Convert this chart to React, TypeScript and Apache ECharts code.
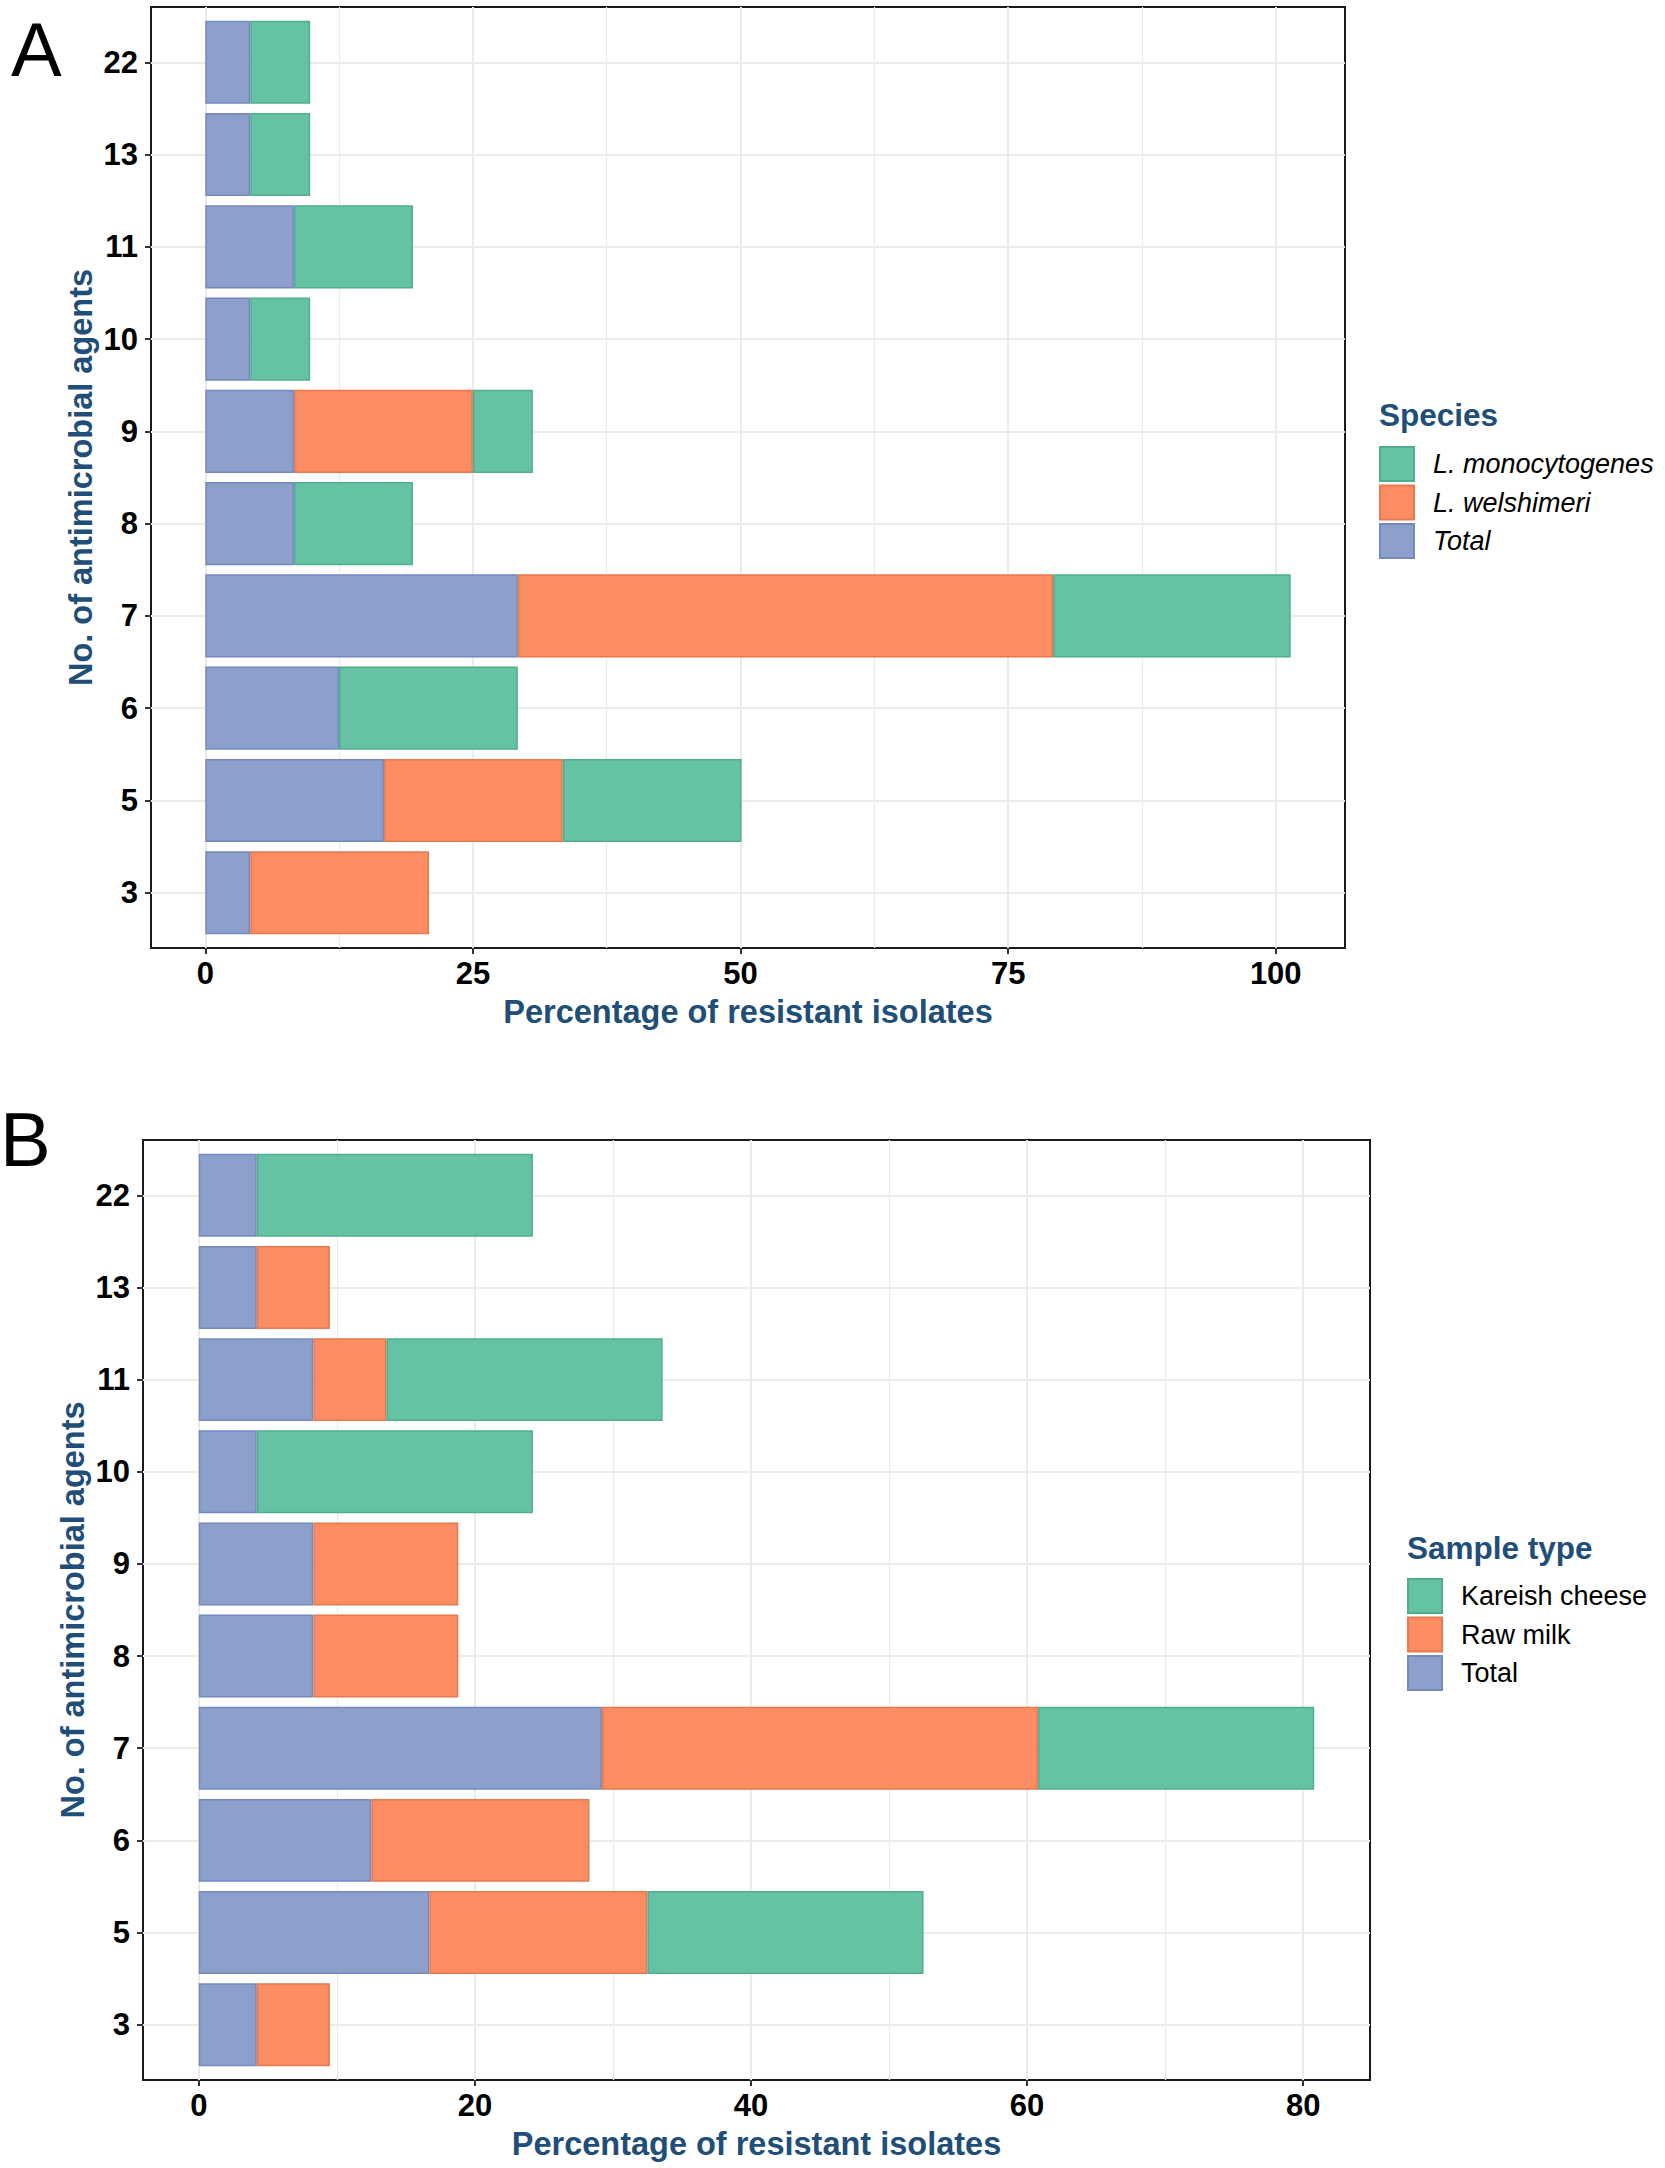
import React, { useEffect, useRef } from "react";
import * as echarts from "echarts";

// ---- data ----
const categories = ["3", "5", "6", "7", "8", "9", "10", "11", "13", "22"];

// Panel A (species)
const totalPct = [4.2, 16.7, 12.5, 29.2, 8.3, 8.3, 4.2, 8.3, 4.2, 4.2];
const welshimeriPct = [16.7, 16.7, 0, 50.0, 0, 16.7, 0, 0, 0, 0];
const monocytogenesPct = [0, 16.7, 16.7, 22.2, 11.1, 5.6, 5.6, 11.1, 5.6, 5.6];

// Panel B (sample type)
const rawMilkPct = [5.3, 15.8, 15.8, 31.6, 10.5, 10.5, 0, 5.3, 5.3, 0];
const kareishPct = [0, 20.0, 0, 20.0, 0, 0, 20.0, 20.0, 0, 20.0];

const xTicksA = [0, 25, 50, 75, 100];
const xMinorA = [12.5, 37.5, 62.5, 87.5];
const xTicksB = [0, 20, 40, 60, 80];
const xMinorB = [10, 30, 50, 70];

const speciesLegend = ["L. monocytogenes", "L. welshimeri", "Total"];
const sampleLegend = ["Kareish cheese", "Raw milk", "Total"];

const COLORS = { green: "#66C2A5", orange: "#FC8D62", blue: "#8DA0CB" };
const BORDERS = { green: "#4FAE8E", orange: "#E8784E", blue: "#7689BC" };

const FONT = "'Liberation Sans', Arial, Helvetica, sans-serif";
const TITLE_BLUE = "#1F4E79";
const GRID_COL = "#EBEBEB";

function nz(arr: number[]) {
  return arr.map((v) => (v === 0 ? "-" : v));
}

function buildPanel(
  p: number,
  layout: { left: number; right: number; top: number; height: number },
  stacks: { name: string; data: number[]; color: keyof typeof COLORS }[],
  majorTicks: number[],
  minorTicks: number[],
  majorStep: number
) {
  const n = categories.length;
  let maxSum = 0;
  for (let i = 0; i < n; i++) {
    let s = 0;
    stacks.forEach((st) => (s += st.data[i]));
    maxSum = Math.max(maxSum, s);
  }
  const xmin = -0.05 * maxSum;
  const xmax = maxSum * 1.05;
  const unit = layout.height / (n - 1 + 1.2);
  const inset = unit * 0.1;

  const grids = [
    {
      left: layout.left,
      right: layout.right,
      top: layout.top,
      height: layout.height,
      show: true,
      borderColor: "#1a1a1a",
      borderWidth: 2,
      backgroundColor: "#fff",
      containLabel: false,
    },
    {
      left: layout.left,
      right: layout.right,
      top: layout.top + inset,
      height: layout.height - 2 * inset,
      show: false,
      containLabel: false,
    },
  ];
  const g0 = p * 2;
  const g1 = p * 2 + 1;
  const xAxes = [
    {
      type: "value",
      gridIndex: g0,
      position: "bottom",
      min: xmin,
      max: xmax,
      minInterval: majorStep,
      maxInterval: majorStep,
      axisLine: { show: false, onZero: false },
      axisTick: {
        show: true,
        length: 6,
        customValues: majorTicks,
        lineStyle: { color: "#333", width: 2 },
      },
      axisLabel: {
        customValues: majorTicks,
        margin: 10,
        fontSize: 31,
        fontWeight: "bold",
        color: "#000",
        fontFamily: FONT,
        formatter: (v: number) => (majorTicks.indexOf(Math.round(v * 100) / 100) >= 0 ? String(v) : ""),
      },
      splitLine: { show: true, lineStyle: { color: GRID_COL, width: 2 } },
      name: "Percentage of resistant isolates",
      nameLocation: "middle",
      nameGap: 47,
      nameTextStyle: { fontSize: 32.5, fontWeight: "bold", color: TITLE_BLUE, fontFamily: FONT },
    },
    {
      type: "value",
      gridIndex: g0,
      position: "top",
      min: xmin,
      max: xmax,
      minInterval: majorStep / 2,
      maxInterval: majorStep / 2,
      axisLine: { show: false, onZero: false },
      axisTick: { show: false, customValues: minorTicks },
      axisLabel: { show: false, customValues: minorTicks },
      splitLine: { show: true, lineStyle: { color: GRID_COL, width: 1.3 } },
    },
    {
      type: "value",
      gridIndex: g1,
      min: xmin,
      max: xmax,
      show: false,
      axisLine: { show: false, onZero: false },
      splitLine: { show: false },
    },
  ];
  const centers = categories.map((_, i) => i);
  const yAxes = [
    {
      type: "value",
      gridIndex: g0,
      min: -0.6,
      max: n - 1 + 0.6,
      minInterval: 1,
      maxInterval: 1,
      axisLine: { show: false, onZero: false },
      axisTick: { show: false, customValues: centers },
      axisLabel: { show: false, customValues: centers },
      splitLine: { show: true, lineStyle: { color: GRID_COL, width: 2 } },
      name: "No. of antimicrobial agents",
      nameLocation: "middle",
      nameRotate: 90,
      nameGap: 54,
      nameTextStyle: { fontSize: 32.5, fontWeight: "bold", color: TITLE_BLUE, fontFamily: FONT },
    },
    {
      type: "category",
      gridIndex: g1,
      data: categories,
      axisLine: { show: false, onZero: false },
      axisTick: { show: true, alignWithLabel: true, length: 6, lineStyle: { color: "#333", width: 2 } },
      axisLabel: { margin: 13, fontSize: 31, fontWeight: "bold", color: "#000", fontFamily: FONT },
      splitLine: { show: false },
    },
  ];
  const xIdx = p * 3 + 2;
  const yIdx = p * 2 + 1;
  const series = stacks.map((st) => ({
    type: "bar",
    name: st.name,
    stack: "panel" + p,
    xAxisIndex: xIdx,
    yAxisIndex: yIdx,
    barCategoryGap: "10%",
    data: nz(st.data),
    itemStyle: { color: COLORS[st.color], borderColor: BORDERS[st.color], borderWidth: 1.5 },
    emphasis: { disabled: true },
  }));
  return { grids, xAxes, yAxes, series };
}

export default function App() {
  const ref = useRef<HTMLDivElement>(null);
  useEffect(() => {
    if (!ref.current) return;
    const chart = echarts.init(ref.current, undefined, { renderer: "svg" });
    const W = 1665;
    const A = buildPanel(
      0,
      { left: 151, right: W - 1345, top: 7, height: 941 },
      [
        { name: "Total", data: totalPct, color: "blue" },
        { name: "L. welshimeri", data: welshimeriPct, color: "orange" },
        { name: "L. monocytogenes", data: monocytogenesPct, color: "green" },
      ],
      xTicksA,
      xMinorA,
      25
    );
    const B = buildPanel(
      1,
      { left: 143, right: W - 1370, top: 1140, height: 940 },
      [
        { name: "Total", data: totalPct, color: "blue" },
        { name: "Raw milk", data: rawMilkPct, color: "orange" },
        { name: "Kareish cheese", data: kareishPct, color: "green" },
      ],
      xTicksB,
      xMinorB,
      20
    );
    const titleStyle = { fontSize: 31.5, fontWeight: "bold", color: TITLE_BLUE, fontFamily: FONT };
    chart.setOption({
      animation: false,
      backgroundColor: "#fff",
      textStyle: { fontFamily: FONT },
      title: [
        { text: "A", left: 11, top: 11, padding: 0, textStyle: { fontSize: 76, fontWeight: "normal", color: "#000", fontFamily: FONT } },
        { text: "B", left: 0, top: 1101, padding: 0, textStyle: { fontSize: 76, fontWeight: "normal", color: "#000", fontFamily: FONT } },
        { text: "Species", left: 1379, top: 399, padding: 0, textStyle: titleStyle },
        { text: "Sample type", left: 1407, top: 1532, padding: 0, textStyle: titleStyle },
      ],
      legend: [
        {
          data: speciesLegend,
          orient: "vertical",
          left: 1379,
          top: 446,
          padding: 0,
          itemWidth: 34,
          itemHeight: 34,
          itemGap: 2.5,
          icon: "rect",
          selectedMode: false,
          textStyle: { fontSize: 27, fontStyle: "italic", color: "#000", fontFamily: FONT, padding: [0, 0, 0, 14] },
        },
        {
          data: sampleLegend,
          orient: "vertical",
          left: 1407,
          top: 1578,
          padding: 0,
          itemWidth: 34,
          itemHeight: 34,
          itemGap: 2.5,
          icon: "rect",
          selectedMode: false,
          textStyle: { fontSize: 27, color: "#000", fontFamily: FONT, padding: [0, 0, 0, 14] },
        },
      ],
      grid: [...A.grids, ...B.grids],
      xAxis: [...A.xAxes, ...B.xAxes],
      yAxis: [...A.yAxes, ...B.yAxes],
      series: [...A.series, ...B.series],
    });
    return () => chart.dispose();
  }, []);
  return (
    <div
      ref={ref}
      style={{ position: "absolute", left: 0, top: 0, width: 1665, height: 2168, background: "#fff" }}
    />
  );
}
